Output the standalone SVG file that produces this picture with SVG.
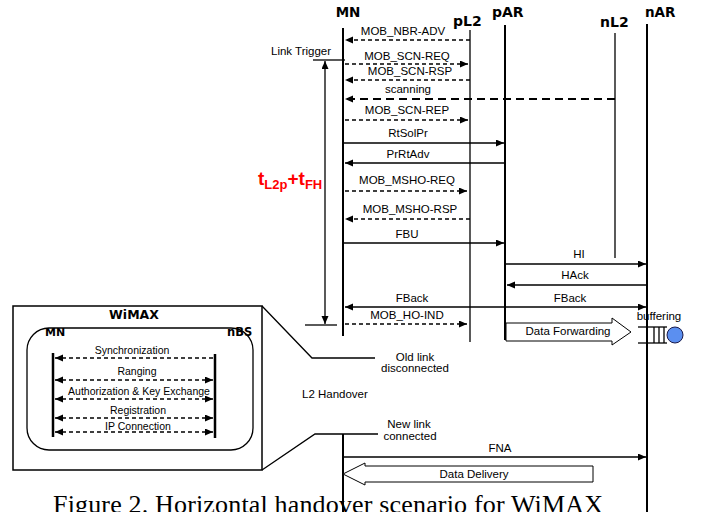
<svg xmlns="http://www.w3.org/2000/svg" width="704" height="512" viewBox="0 0 704 512">
<style>
.hd{font-family:"DejaVu Sans",sans-serif;font-weight:bold;fill:#000}
.lb{font-family:"Liberation Sans",Arial,sans-serif;font-size:11.5px;fill:#000}
.sm{font-family:"Liberation Sans",Arial,sans-serif;font-size:10.5px;fill:#000}
.ll{stroke:#000;stroke-width:2;fill:none}
.lt{stroke:#000;stroke-width:1.3;fill:none}
.m{stroke:#000;stroke-width:1.3;fill:none}
.d{stroke-dasharray:4 3}
.ld{stroke-width:2;stroke-dasharray:8 5}
.blk{fill:#fff;stroke:#000;stroke-width:1}
</style>
<defs>
<marker id="ah" markerUnits="userSpaceOnUse" markerWidth="9" markerHeight="8" refX="8" refY="3.5" orient="auto-start-reverse">
<path d="M0,0 L8,3.5 L0,7 z" fill="#000"/>
</marker>
</defs>
<rect width="704" height="512" fill="#fff"/>

<g id="MN">
<text class="hd" x="348" y="17" font-size="13.5" text-anchor="middle">MN</text>
<line class="ll" x1="343" y1="28" x2="343" y2="336"/>
<line class="ll" x1="343" y1="434" x2="343" y2="512"/>
</g>
<g id="pL2">
<text class="hd" x="453" y="26" font-size="14">pL2</text>
<line class="lt" x1="470" y1="30" x2="470" y2="342"/>
</g>
<g id="pAR">
<text class="hd" x="492" y="17" font-size="14">pAR</text>
<line class="ll" x1="505" y1="25" x2="505" y2="340"/>
</g>
<g id="nL2">
<text class="hd" x="600" y="27" font-size="14">nL2</text>
<line class="lt" x1="615" y1="33" x2="615" y2="258"/>
</g>
<g id="nAR">
<text class="hd" x="645" y="17" font-size="13.5">nAR</text>
<line class="ll" x1="647" y1="24" x2="647" y2="512"/>
</g>

<g id="connectors">
<line class="m d" x1="470" y1="40" x2="345" y2="40" marker-end="url(#ah)"/>
<line class="m d" x1="345" y1="64" x2="468" y2="64" marker-end="url(#ah)"/>
<line class="m d" x1="470" y1="80" x2="345" y2="80" marker-end="url(#ah)"/>
<line class="m ld" x1="615" y1="99" x2="345" y2="99" marker-end="url(#ah)"/>
<line class="m d" x1="345" y1="120" x2="468" y2="120" marker-end="url(#ah)"/>
<line class="m" x1="344" y1="143" x2="504" y2="143" marker-end="url(#ah)"/>
<line class="m" x1="505" y1="163" x2="345" y2="163" marker-end="url(#ah)"/>
<line class="m d" x1="345" y1="191" x2="467" y2="191" marker-end="url(#ah)"/>
<line class="m d" x1="470" y1="219" x2="345" y2="219" marker-end="url(#ah)"/>
<line class="m" x1="344" y1="243" x2="504" y2="243" marker-end="url(#ah)"/>
<line class="m" x1="505" y1="264" x2="646" y2="264" marker-end="url(#ah)"/>
<line class="m" x1="647" y1="285" x2="507" y2="285" marker-end="url(#ah)"/>
<line class="m" x1="505" y1="307" x2="345" y2="307" marker-end="url(#ah)"/>
<line class="m" x1="505" y1="307" x2="646" y2="307" marker-end="url(#ah)"/>
<line class="m d" x1="345" y1="324" x2="467" y2="324" marker-end="url(#ah)"/>
<line class="m" x1="344" y1="457" x2="646" y2="457" marker-end="url(#ah)"/>
<line class="m" x1="313" y1="60" x2="345" y2="60"/>
<line class="m" x1="305" y1="325" x2="337" y2="325"/>
<line class="m" x1="325" y1="324" x2="325" y2="61" marker-start="url(#ah)" marker-end="url(#ah)"/>
<polyline class="m" points="262,306 312,358 375,358"/>
<polyline class="m" points="262,470 315,434 378,434"/>
</g>

<g id="labels">
<text class="lb" x="403" y="35" text-anchor="middle">MOB_NBR-ADV</text>
<text class="lb" x="407" y="60" text-anchor="middle">MOB_SCN-REQ</text>
<text class="lb" x="410" y="75" text-anchor="middle">MOB_SCN-RSP</text>
<text class="lb" x="408" y="93" text-anchor="middle">scanning</text>
<text class="lb" x="407" y="114" text-anchor="middle">MOB_SCN-REP</text>
<text class="lb" x="408" y="137" text-anchor="middle">RtSolPr</text>
<text class="lb" x="408" y="158" text-anchor="middle">PrRtAdv</text>
<text class="lb" x="407" y="184" text-anchor="middle">MOB_MSHO-REQ</text>
<text class="lb" x="410" y="213" text-anchor="middle">MOB_MSHO-RSP</text>
<text class="lb" x="407" y="238" text-anchor="middle">FBU</text>
<text class="lb" x="579" y="258" text-anchor="middle">HI</text>
<text class="lb" x="575" y="279" text-anchor="middle">HAck</text>
<text class="lb" x="412" y="302" text-anchor="middle">FBack</text>
<text class="lb" x="570" y="302" text-anchor="middle">FBack</text>
<text class="lb" x="407" y="319" text-anchor="middle">MOB_HO-IND</text>
<text class="lb" x="500" y="452" text-anchor="middle">FNA</text>
<text class="lb" x="271" y="55">Link Trigger</text>
<text class="lb" x="415" y="361" text-anchor="middle">Old link</text>
<text class="lb" x="415" y="372" text-anchor="middle">disconnected</text>
<text class="lb" x="302" y="398">L2 Handover</text>
<text class="lb" x="409" y="428" text-anchor="middle">New link</text>
<text class="lb" x="410" y="440" text-anchor="middle">connected</text>
<text x="258" y="185" font-family="'Liberation Sans',Arial,sans-serif" font-weight="bold" font-size="19" fill="#ff0000">t<tspan font-size="13" dy="4">L2p</tspan><tspan dy="-4">+t</tspan><tspan font-size="13" dy="4">FH</tspan></text>
</g>

<g id="dataForwarding">
<polygon class="blk" points="506,323 612,323 612,318 631,332 612,345 612,341 506,341"/>
<text class="lb" x="568" y="335" text-anchor="middle">Data Forwarding</text>
</g>

<g id="buffering">
<text class="lb" x="659" y="320" text-anchor="middle">buffering</text>
<line class="m" x1="638" y1="327" x2="667" y2="327"/>
<line class="m" x1="638" y1="343" x2="667" y2="343"/>
<line class="m" x1="654" y1="327" x2="654" y2="343"/>
<line class="m" x1="659" y1="327" x2="659" y2="343"/>
<line class="m" x1="664" y1="327" x2="664" y2="343"/>
<circle cx="675" cy="335" r="8" fill="#5b8ff0" stroke="#1a1a4a" stroke-width="1"/>
</g>

<g id="dataDelivery">
<polygon class="blk" points="343,474 365,463 365,466 593,466 593,482 365,482 365,485"/>
<text class="lb" x="474" y="478" text-anchor="middle">Data Delivery</text>
</g>

<g id="WiMAX">
<rect x="13" y="306" width="249" height="164" fill="#fff" stroke="#000" stroke-width="1.5"/>
<text class="hd" x="134" y="319" font-size="12.5" text-anchor="middle">WiMAX</text>
<rect x="27" y="328" width="226" height="122" rx="22" ry="22" fill="none" stroke="#000" stroke-width="1.3"/>
<text class="hd" x="45" y="336" font-size="11">MN</text>
<text class="hd" x="227" y="336" font-size="11.5">nBS</text>
<line stroke="#000" stroke-width="2.5" x1="53" y1="353" x2="53" y2="437"/>
<line stroke="#000" stroke-width="2.5" x1="215" y1="354" x2="215" y2="438"/>
<line class="m d" x1="213" y1="358" x2="55" y2="358" marker-end="url(#ah)"/>
<line class="m d" x1="55" y1="380" x2="213" y2="380" marker-start="url(#ah)" marker-end="url(#ah)"/>
<line class="m d" x1="55" y1="399" x2="213" y2="399" marker-start="url(#ah)" marker-end="url(#ah)"/>
<line class="m d" x1="55" y1="418" x2="213" y2="418" marker-start="url(#ah)" marker-end="url(#ah)"/>
<line class="m d" x1="55" y1="432" x2="213" y2="432" marker-start="url(#ah)" marker-end="url(#ah)"/>
<text class="sm" x="132" y="354" text-anchor="middle">Synchronization</text>
<text class="sm" x="137" y="375" text-anchor="middle">Ranging</text>
<text class="sm" x="139" y="395" text-anchor="middle">Authorization &amp; Key Exchange</text>
<text class="sm" x="138" y="414" text-anchor="middle">Registration</text>
<text class="sm" x="138" y="430" text-anchor="middle">IP Connection</text>
</g>

<text x="53" y="513" font-family="'Liberation Serif','Times New Roman',serif" font-size="26" fill="#000" textLength="550" lengthAdjust="spacing">Figure 2. Horizontal handover scenario for WiMAX</text>
</svg>
